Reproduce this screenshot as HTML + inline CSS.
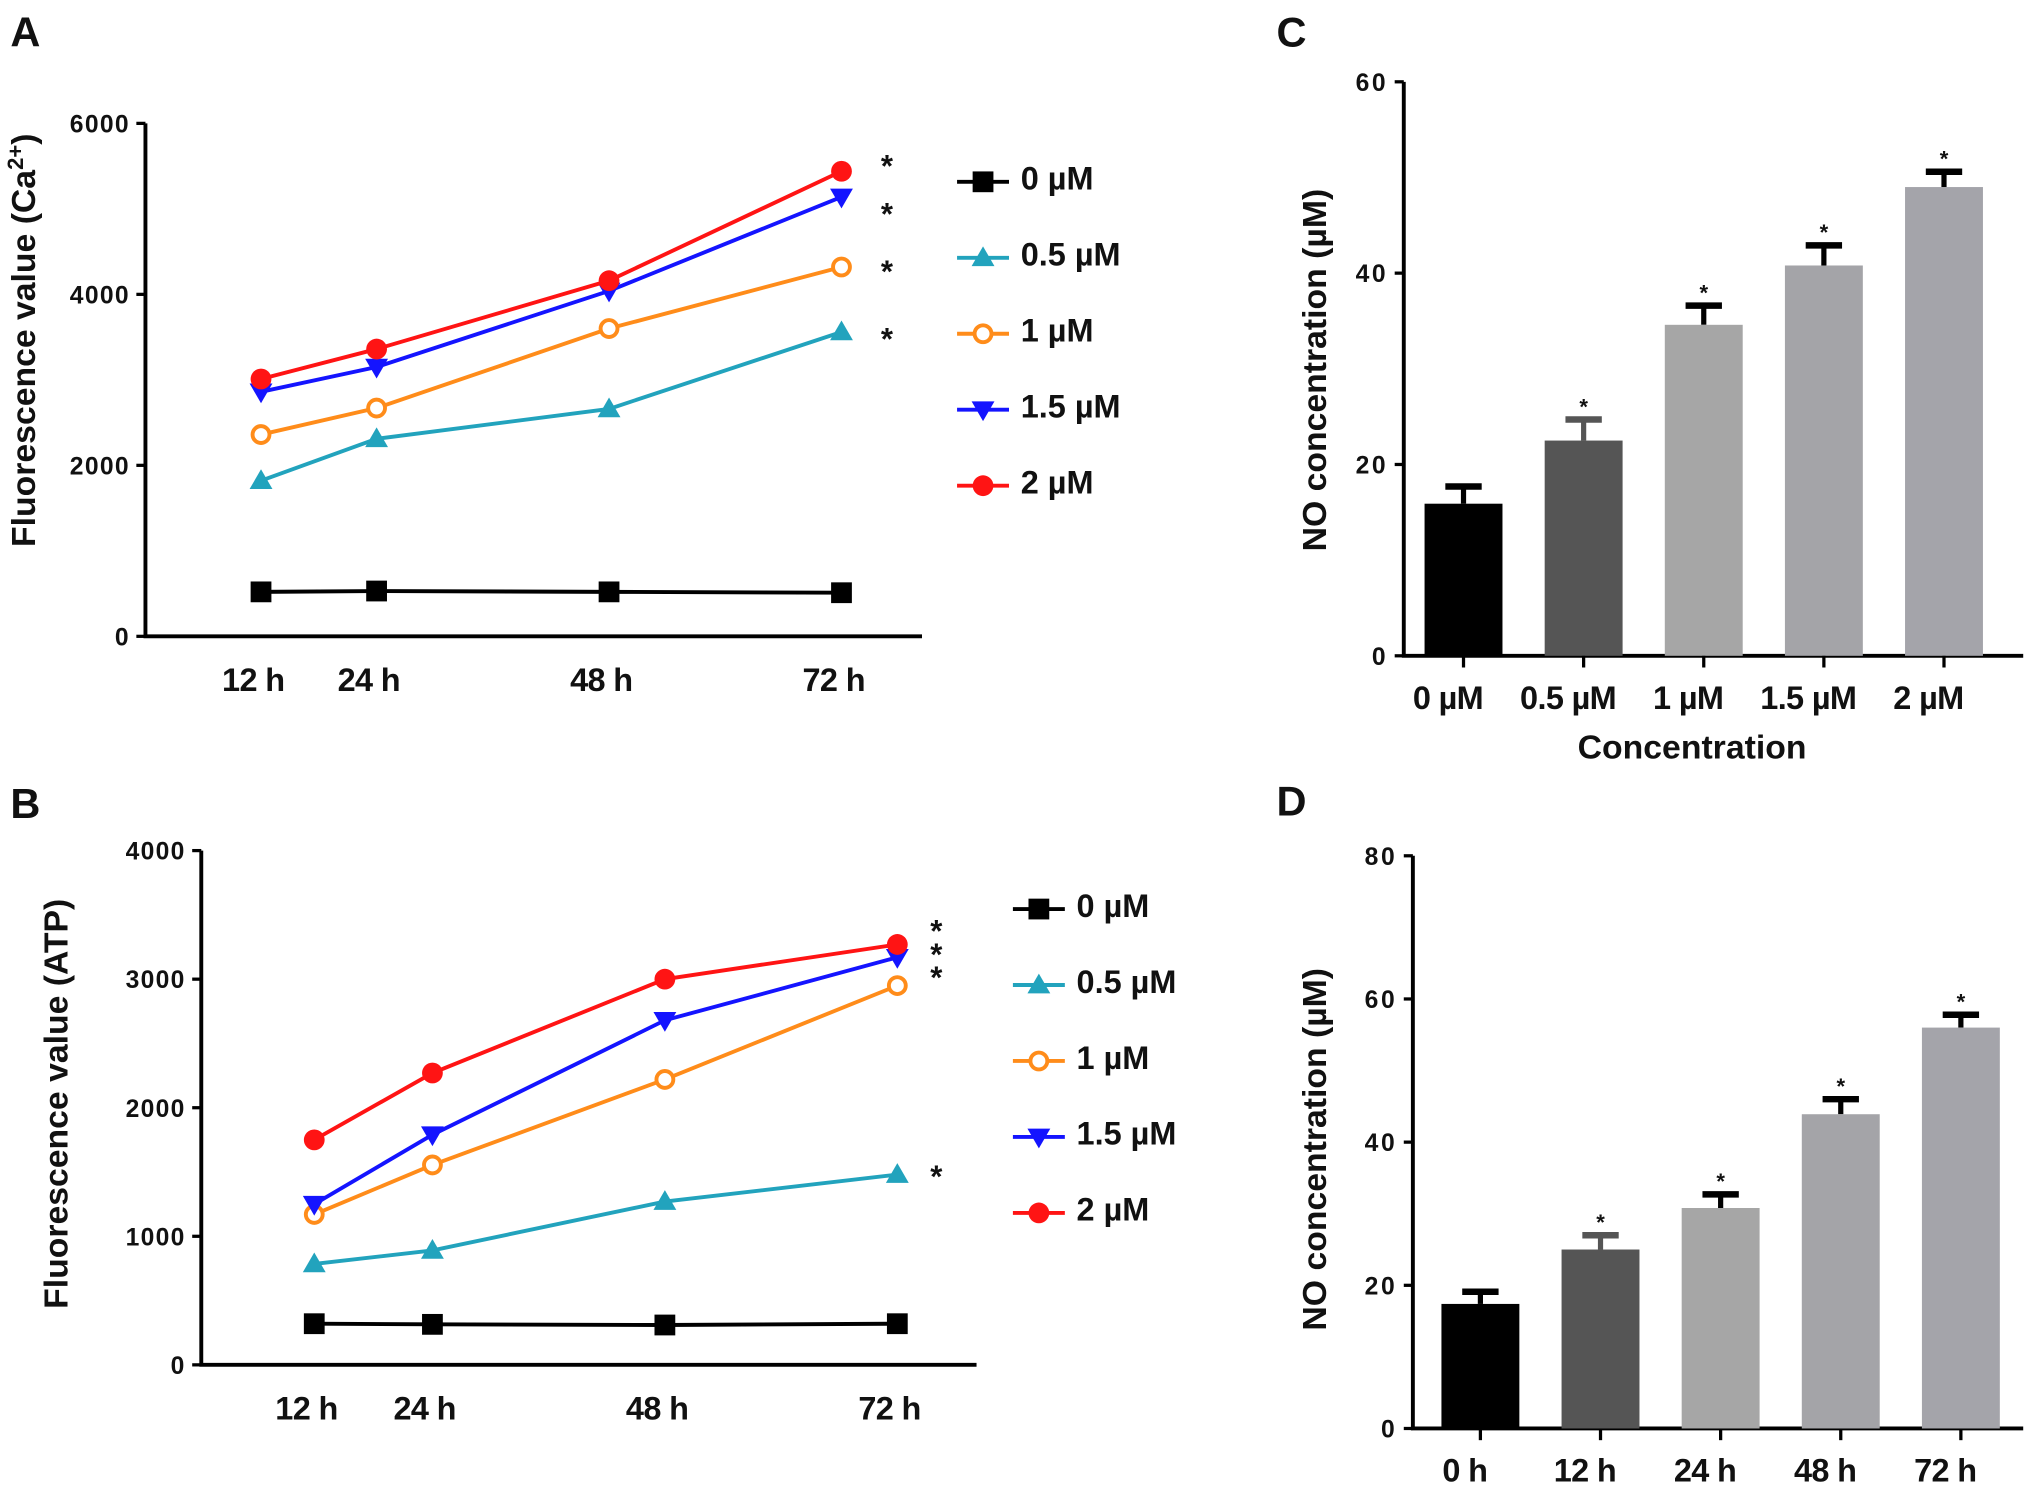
<!DOCTYPE html>
<html><head><meta charset="utf-8"><style>
html,body{margin:0;padding:0;background:#fff}
svg{display:block}
text{font-family:"Liberation Sans",sans-serif;font-weight:bold;fill:#111}
</style></head><body>
<svg id="fig" width="2031" height="1509" viewBox="0 0 1564 1162" preserveAspectRatio="none" xmlns="http://www.w3.org/2000/svg">
<text x="8" y="36" font-size="32">A</text>
<text x="8" y="630" font-size="32">B</text>
<text x="983" y="36" font-size="32">C</text>
<text x="983" y="628" font-size="32">D</text>
</svg>
<script>
const timeCats=["12 h","24 h","48 h","72 h"];
const seriesNames=["0 µM","0.5 µM","1 µM","1.5 µM","2 µM"];
const aTicks=[0,2000,4000,6000];
const a0=[520,530,520,510];
const a05=[1820,2310,2660,3560];
const a1=[2360,2670,3600,4320];
const a15=[2860,3150,4040,5140];
const a2=[3010,3360,4160,5440];
const bTicks=[0,1000,2000,3000,4000];
const b0=[320,315,310,320];
const b05=[785,890,1270,1480];
const b1=[1170,1555,2220,2950];
const b15=[1250,1790,2680,3170];
const b2=[1750,2270,3000,3270];
const cCats=["0 µM","0.5 µM","1 µM","1.5 µM","2 µM"];
const cTicks=[0,20,40,60];
const cVals=[15.9,22.5,34.6,40.8,49.0];
const cErr=[1.8,2.2,2.0,2.1,1.6];
const cStar=[false,true,true,true,true];
const dCats=["0 h","12 h","24 h","48 h","72 h"];
const dTicks=[0,20,40,60,80];
const dVals=[17.4,25.0,30.8,43.9,56.0];
const dErr=[1.7,2.0,1.9,2.1,1.8];
const dStar=[false,true,true,true,true];

const NS="http://www.w3.org/2000/svg";
const svg=document.getElementById('fig');
function mk(tag,attrs,parent){const e=document.createElementNS(NS,tag);for(const k in attrs)e.setAttribute(k,attrs[k]);(parent||svg).appendChild(e);return e;}
const colors=["#000000","#22a3bd","#ff8c1a","#1414ff","#ff1414"];
const shapes=["square","tri","circleOpen","triDown","circle"];

function marker(g,shape,x,y,c,s){
  let e;
  if(shape==="square")e=mk('rect',{x:x-s,y:y-s,width:2*s,height:2*s,fill:c},g);
  else if(shape==="tri")e=mk('polygon',{points:`${x},${y-s*1.1} ${x-s*1.1},${y+s*0.8} ${x+s*1.1},${y+s*0.8}`,fill:c},g);
  else if(shape==="triDown")e=mk('polygon',{points:`${x},${y+s*1.1} ${x-s*1.1},${y-s*0.8} ${x+s*1.1},${y-s*0.8}`,fill:c},g);
  else if(shape==="circle")e=mk('circle',{cx:x,cy:y,r:s,fill:c},g);
  else e=mk('circle',{cx:x,cy:y,r:s-1.5,fill:'#fff',stroke:c,'stroke-width':3},g);
  return e;
}

function linePanel(id,cfg){
  const g=mk('g',{});
  
  
  const ys=v=>cfg.y0-(v-cfg.min)/(cfg.max-cfg.min)*(cfg.y0-cfg.y1);
  const xs=i=>cfg.xpos[i];
  const ax=mk('path',{d:`M${cfg.ax},${cfg.y1} V${cfg.y0} H${cfg.axEnd}`,stroke:'#000','stroke-width':3,fill:'none'},g);
  
  
  cfg.ticks.forEach(t=>{
    mk('line',{x1:cfg.ax-7,x2:cfg.ax,y1:ys(t),y2:ys(t),stroke:'#000','stroke-width':2.5},g);
    const tx=mk('text',{x:cfg.ax-12,y:ys(t)+7,'font-size':19,'text-anchor':'end','letter-spacing':'1'},g);
    tx.textContent=t;
    
    
  });
  timeCats.forEach((c,i)=>{
    const tx=mk('text',{x:xs(i)-6,y:cfg.y0+42,'font-size':25,'text-anchor':'middle','letter-spacing':'-0.5'},g);
    tx.textContent=c;
    
    
  });
  cfg.series.forEach((vals,si)=>{
    const pts=vals.map((v,i)=>xs(i)+','+ys(v)).join(' ');
    const pl=mk('polyline',{points:pts,fill:'none',stroke:colors[si],'stroke-width':3},g);
    
    
    vals.forEach((v,i)=>{
      const m=marker(g,shapes[si],xs(i),ys(v),colors[si],8);
      
      
    });
  });
  cfg.starY.forEach(y=>{
    const s=mk('text',{x:cfg.starX,y:y+14,'font-size':24,'text-anchor':'middle'},g);
    s.textContent='*';
    
    
  });
  seriesNames.forEach((n,si)=>{
    const y=cfg.legY+si*cfg.legStep;
    mk('line',{x1:cfg.legX-20,x2:cfg.legX+20,y1:y,y2:y,stroke:colors[si],'stroke-width':3},g);
    marker(g,shapes[si],cfg.legX,y,colors[si],8);
    const t=mk('text',{x:cfg.legX+29,y:y+6,'font-size':25},g);
    t.textContent=n;
    
    
  });
  const tt=mk('text',{transform:`translate(${cfg.titleX},${cfg.titleY}) rotate(-90)`,'font-size':26,'text-anchor':'middle'},g);
  tt.innerHTML=cfg.title;
  
  
}

linePanel('panel-a',{ax:112,axEnd:710,y0:490,y1:95,min:0,max:6000,ticks:aTicks,xpos:[201,290,469,648],
  series:[a0,a05,a1,a15,a2],starX:683,starY:[122,159,203,255],legX:757,legY:140,legStep:58.5,
  titleX:27,titleY:262,title:'Fluorescence value (Ca<tspan baseline-shift="super" font-size="17">2+</tspan>)'});
linePanel('panel-b',{ax:155,axEnd:752,y0:1051,y1:655,min:0,max:4000,ticks:bTicks,xpos:[242,333,512,691],
  series:[b0,b05,b1,b15,b2],starX:721,starY:[711,729,747,900],legX:800,legY:700,legStep:58.5,
  titleX:52,titleY:850,title:'Fluorescence value (ATP)'});

function barPanel(id,cfg){
  const g=mk('g',{});
  
  
  const ys=v=>cfg.y0-v/cfg.max*(cfg.y0-cfg.y1);
  const ax=mk('path',{d:`M${cfg.ax},${cfg.y1} V${cfg.y0} H${cfg.axEnd}`,stroke:'#000','stroke-width':3,fill:'none'},g);
  
  
  cfg.ticks.forEach(t=>{
    mk('line',{x1:cfg.ax-7,x2:cfg.ax,y1:ys(t),y2:ys(t),stroke:'#000','stroke-width':2.5},g);
    const tx=mk('text',{x:cfg.ax-12,y:ys(t)+7,'font-size':19,'text-anchor':'end','letter-spacing':'2'},g);
    tx.textContent=t;
    
    
  });
  const n=cfg.cats.length;
  const step=(cfg.lastX-cfg.firstX)/(n-1);
  cfg.cats.forEach((c,i)=>{
    const cx=cfg.firstX+i*step;
    const top=ys(cfg.vals[i]);
    const et=ys(cfg.vals[i]+cfg.err[i]);
    const ec=i===1?'#555':'#000';
    mk('line',{x1:cx,x2:cx,y1:top,y2:et,stroke:ec,'stroke-width':4},g);
    mk('line',{x1:cx-14,x2:cx+14,y1:et,y2:et,stroke:ec,'stroke-width':5},g);
    const b=mk('rect',{x:cx-30,y:top,width:60,height:cfg.y0-top,fill:cfg.fills[i]},g);
    
    
    mk('line',{x1:cx,x2:cx,y1:cfg.y0,y2:cfg.y0+9,stroke:'#000','stroke-width':2.5},g);
    if(cfg.star[i]){
      const s=mk('text',{x:cx,y:et-4,'font-size':17,'text-anchor':'middle'},g);
      s.textContent='*';
      
      
    }
    const tx=mk('text',{x:cx-12,y:cfg.y0+41,'font-size':25,'text-anchor':'middle','letter-spacing':'-0.5'},g);
    tx.textContent=c;
    
    
  });
  const tt=mk('text',{transform:`translate(${cfg.titleX},${cfg.titleY}) rotate(-90)`,'font-size':26,'text-anchor':'middle'},g);
  tt.textContent='NO concentration (µM)';
  
  
  if(cfg.xTitle){
    const xt=mk('text',{x:1303,y:cfg.y0+79,'font-size':26,'text-anchor':'middle'},g);
    xt.textContent=cfg.xTitle;
    
    
  }
}
const fills=['#000000','#555555','#a6a6a6','#a4a4a8','#a4a4aa'];
barPanel('panel-c',{ax:1081,axEnd:1558,y0:505,y1:63,max:60,ticks:cTicks,cats:cCats,vals:cVals,err:cErr,star:cStar,
  firstX:1127,lastX:1497,fills:fills,titleX:1021,titleY:285,xTitle:'Concentration'});
barPanel('panel-d',{ax:1088,axEnd:1558,y0:1100,y1:659,max:80,ticks:dTicks,cats:dCats,vals:dVals,err:dErr,star:dStar,
  firstX:1140,lastX:1510,fills:fills,titleX:1021,titleY:885});
</script>
</body></html>
